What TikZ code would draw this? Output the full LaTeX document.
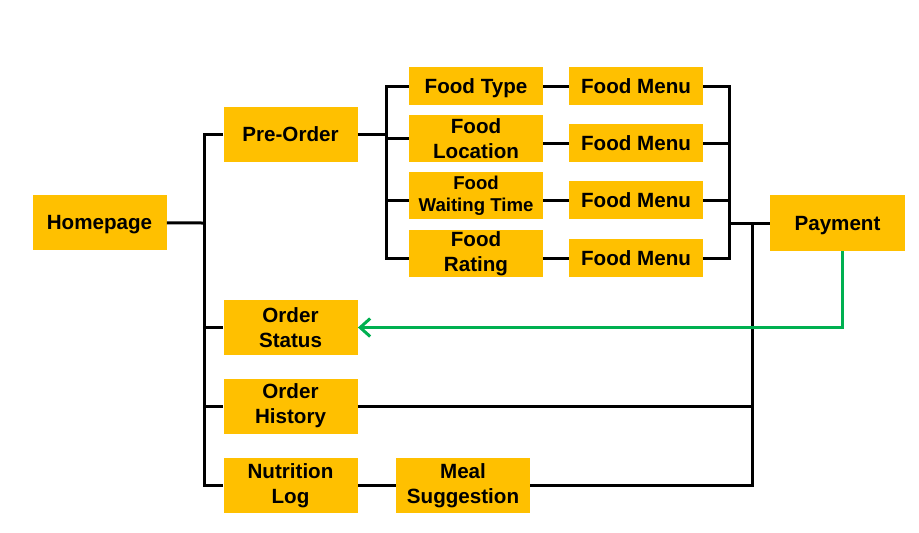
\documentclass[tikz,border=0pt]{standalone}
\usepackage{fontspec}
\setmainfont{Liberation Sans}
\usetikzlibrary{arrows.meta}
\definecolor{boxyellow}{HTML}{FFC000}
\definecolor{linkgreen}{HTML}{00B050}
\tikzset{
  box/.style={fill=boxyellow, align=center, inner sep=0pt,
    font=\fontsize{10.3}{12.4}\selectfont\bfseries,
    minimum width=67pt, minimum height=27.5pt},
  single/.style={text height=7.4pt, text depth=0pt},
  slim/.style={box, single, minimum height=19pt},
  twin/.style={box, minimum height=23.5pt},
  wire/.style={line width=1.5pt, black}
}
\begin{document}
\begin{tikzpicture}[x=0.5pt, y=-0.5pt]
    \useasboundingbox (0, 0) rectangle (919, 532);

    \node [box, single] (home) at (99.5, 222.5) {Homepage};
    \node [box, single] (pre) at (290.5, 134) {Pre-Order};
    \node [box] (status) at (290.5, 327.5) {Order\\Status};
    \node [box] (hist) at (290.5, 406) {Order\\History};
    \node [box] (nutri) at (290.5, 485.5) {Nutrition\\Log};
    \node [box] (meal) at (463, 485.5) {Meal\\Suggestion};
    \node [box, single, minimum width=67.5pt, minimum height=28pt] (pay) at (837.5, 223) {Payment};

    \node [slim] (ftype) at (476, 86) {Food Type};
    \node [twin] (floc) at (476, 138.5) {Food\\Location};
    \node [twin, font=\fontsize{9.3}{11}\selectfont\bfseries] (fwait) at (476, 195.5) {Food\\Waiting Time};
    \node [twin] (frate) at (476, 253.5) {Food\\Rating};

    \node [slim] (menu1) at (636, 86) {Food Menu};
    \node [slim] (menu2) at (636, 143) {Food Menu};
    \node [slim] (menu3) at (636, 200) {Food Menu};
    \node [slim] (menu4) at (636, 258) {Food Menu};

    % junction points of the trees
    \coordinate (homefork) at (204, 223);
    \coordinate (prefork) at (386, 134);
    \coordinate (menufork) at (729, 223);
    \coordinate (payfork) at (752, 223);

    \draw [wire] (home) -- (homefork);
    \draw [wire] (pre.west) -| (homefork);
    \draw [wire] (status.west) -| (homefork);
    \draw [wire] (hist.west) -| (homefork);
    \draw [wire] (nutri.west) -| (homefork);

    \draw [wire] (pre) -- (prefork);
    \draw [wire] (ftype.west) -| (prefork);
    \draw [wire] (floc.west) -| (prefork);
    \draw [wire] (fwait.west |- menu3) -| (prefork);
    \draw [wire] (frate.west |- menu4) -| (prefork);

    \draw [wire] (ftype) -- (menu1);
    \draw [wire] (floc.east |- menu2) -- (menu2.west);
    \draw [wire] (fwait.east |- menu3) -- (menu3.west);
    \draw [wire] (frate.east |- menu4) -- (menu4.west);

    \draw [wire] (menu1.east) -| (menufork);
    \draw [wire] (menu2.east) -| (menufork);
    \draw [wire] (menu3.east) -| (menufork);
    \draw [wire] (menu4.east) -| (menufork);
    \draw [wire] (menufork) -- (pay);

    \draw [wire] (nutri) -- (meal);
    \draw [wire] (hist.east) -| (payfork);
    \draw [wire] (meal.east) -| (payfork);

    \draw [line width=1.5pt, linkgreen, -{Straight Barb[length=5pt, width=9pt]}]
      ([xshift=2.25pt]pay.south) |- (status.east);
\end{tikzpicture}
\end{document}
